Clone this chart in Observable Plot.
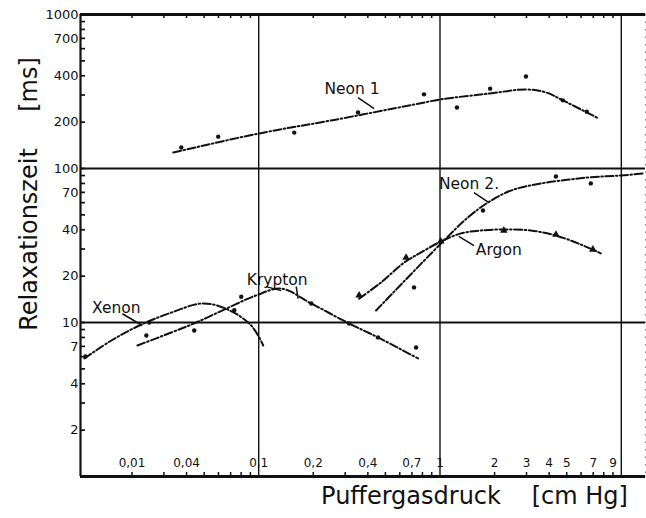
<!DOCTYPE html>
<html>
<head>
<meta charset="utf-8">
<script src="https://cdn.jsdelivr.net/npm/d3@7"></script>
<script src="https://cdn.jsdelivr.net/npm/@observablehq/plot@0.6"></script>
<style>
  html, body { margin: 0; padding: 0; background: #fff; }
  svg { display: block; }
</style>
</head>
<body>
<div id="chart"></div>
<script>
// Relaxation time [ms] vs. buffer gas pressure [cm Hg], log-log.
// Fitted curves: [pressure, relaxation time]
const neon1Curve = [[0.0338,127],[0.1007,169],[0.2507,205],[0.719,260],[1.01,281],[1.885,307],[2.98,326],[3.84,312],[4.76,277],[7.52,211]];
const neon2Curve = [[0.4438,11.96],[1.013,32.6],[1.426,48.1],[1.838,60.1],[2.461,71.9],[3.60,79.9],[6.54,87.4],[9.94,90.1],[13.3,92.9]];
const argonCurve = [[0.358,14.3],[0.473,18.2],[0.634,24.5],[0.786,28.5],[1.013,33.6],[1.305,37.9],[1.683,39.6],[2.31,40.2],[3.17,39.6],[4.36,36.7],[5.98,32.1],[7.71,28.1]];
const kryptonCurve = [[0.02143,7.09],[0.03296,8.61],[0.04527,10],[0.0662,12.3],[0.0969,15.0],[0.1330,16.6],[0.1946,13.3],[0.3153,9.85],[0.4552,8.0],[0.7565,5.84]];
const xenonCurve = [[0.01093,5.84],[0.01538,7.64],[0.02197,9.56],[0.03296,11.6],[0.04944,13.3],[0.06787,12.1],[0.0910,9.56],[0.1059,7.09]];

// Measured points
const neon1Points = [[0.0374,137],[0.0598,161],[0.157,171],[0.353,231],[0.816,303],[1.24,249],[1.89,330],[2.98,396],[4.76,277],[6.45,234]];
const neon2Points = [[0.719,16.9],[1.726,53.4],[4.36,88.7],[6.79,80]];
const argonPoints = [[0.358,15.0],[0.650,26.4],[1.01,33.6],[2.25,39.6],[4.36,37.2],[6.97,29.8]];
const kryptonPoints = [[0.0240,8.24],[0.0441,8.87],[0.0801,14.7],[0.195,13.3],[0.315,9.85],[0.455,8.0],[0.738,6.88]];
const xenonPoints = [[0.01107,6.01],[0.0249,10.0],[0.0733,12.0]];

// Series labels: [name, pressure, time] and their leader lines [x1, y1, x2, y2]
const seriesLabels = [["Neon 1",0.327,326],["Neon 2.",1.445,78.7],["Argon",2.11,29.4],["Krypton",0.1265,19.0],["Xenon",0.0164,12.5]];
const leaders = [
  [0.353,289,0.433,245],
  [1.539,69.8,1.862,60.1],
  [1.539,31.6,1.27,36.2],
  [0.110,17.1,0.133,16.1],
  [0.161,17.1,0.165,14.3],
  [0.0177,11.4,0.0228,9.56]
];

// Axes
const xDomain = [0.0104, 13.6];
const yDomain = [1, 1000];
const xDecadeLines = [0.1, 1, 10];
const yDecadeLines = [10, 100];
const xMinorTicks = [0.02,0.03,0.04,0.05,0.06,0.07,0.08,0.09,0.2,0.3,0.4,0.5,0.6,0.7,0.8,0.9,2,3,4,5,6,7,8,9];
const yMinorTicks = [1,2,3,4,5,6,7,8,9,10,20,30,40,50,60,70,80,90,100,200,300,400,500,600,700,800,900,1000];
const xTickValues = [0.02,0.04,0.1,0.2,0.4,0.7,1,2,3,4,5,7,9];
const xTickText = ["0,01","0,04","0,1","0,2","0,4","0,7","1","2","3","4","5","7","9"];
const yTickValues = [1000,700,400,200,100,70,40,20,10,7,4,2];
const xTitles = [["Puffergasdruck",0.692],["[cm Hg]",5.90]];
const yTitles = [["Relaxationszeit",34.6],["[ms]",351]];

const W = 646, H = 518;
const mL = 80, mR = 1, mT = 14, mB = 42;
const frameW = W - mL - mR, frameH = H - mT - mB;
const ink = "#111";
const dash = "8,2.5,1.6,2.5";

const curve = (data) => Plot.line(data, {x: "0", y: "1", curve: "catmull-rom", stroke: ink, strokeWidth: 2, strokeDasharray: dash});
const pts = (data, symbol = "circle") => Plot.dot(data, {x: "0", y: "1", r: symbol === "circle" ? 2.2 : 2.8, symbol, fill: ink, stroke: "none"});

const chart = Plot.plot({
  width: W, height: H,
  marginLeft: mL, marginRight: mR, marginTop: mT, marginBottom: mB,
  x: {type: "log", domain: xDomain, axis: null},
  y: {type: "log", domain: yDomain, axis: null},
  style: {fontFamily: "'DejaVu Sans', sans-serif", background: "#fff", color: ink},
  marks: [
    // grid frame
    Plot.ruleX(xDecadeLines, {stroke: ink, strokeWidth: 1.4}),
    Plot.ruleX([xDomain[1]], {stroke: "#888", strokeWidth: 1, strokeDasharray: "1.5,6"}),
    Plot.ruleY(yDecadeLines, {stroke: ink, strokeWidth: 2.2}),
    Plot.ruleY([yDomain[1]], {stroke: ink, strokeWidth: 2.8}),
    Plot.ruleY([yDomain[0]], {stroke: ink, strokeWidth: 2.8}),
    Plot.ruleX([xDomain[0]], {stroke: ink, strokeWidth: 2.2}),
    // inward ticks
    Plot.tickY(yMinorTicks, {y: d => d, insetRight: frameW - 5, stroke: ink, strokeWidth: 1.7}),
    Plot.tickX(xMinorTicks, {x: d => d, insetTop: frameH - 4, stroke: ink, strokeWidth: 1.5}),
    Plot.tickX(xMinorTicks, {x: d => d, insetBottom: frameH - 4, stroke: ink, strokeWidth: 1.5}),
    // tick labels
    Plot.text(yTickValues, {y: d => d, text: d => String(d), frameAnchor: "left", dx: -2, textAnchor: "end", lineAnchor: "middle", fontSize: 13, fill: ink}),
    Plot.text(xTickValues, {x: d => d, text: (d, i) => xTickText[i], frameAnchor: "bottom", dy: -13, textAnchor: "middle", lineAnchor: "middle", fontSize: 12, fill: ink}),
    // axis titles
    Plot.text(yTitles, {y: "1", text: "0", frameAnchor: "left", dx: -51, rotate: -90, textAnchor: "middle", lineAnchor: "middle", fontSize: 24, fill: ink}),
    Plot.text(xTitles, {x: "1", text: "0", frameAnchor: "bottom", dy: 20, textAnchor: "middle", lineAnchor: "middle", fontSize: 24, fill: ink}),
    // curves
    curve(neon1Curve),
    curve(neon2Curve),
    curve(argonCurve),
    curve(kryptonCurve),
    curve(xenonCurve),
    // points
    pts(neon1Points),
    pts(neon2Points),
    pts(argonPoints, "triangle"),
    pts(kryptonPoints),
    pts(xenonPoints),
    // labels
    Plot.link(leaders, {x1: "0", y1: "1", x2: "2", y2: "3", stroke: ink, strokeWidth: 1.5}),
    Plot.text(seriesLabels, {x: "1", y: "2", text: "0", fontSize: 15.5, fill: ink})
  ]
});
document.getElementById("chart").append(chart);
</script>
</body>
</html>
